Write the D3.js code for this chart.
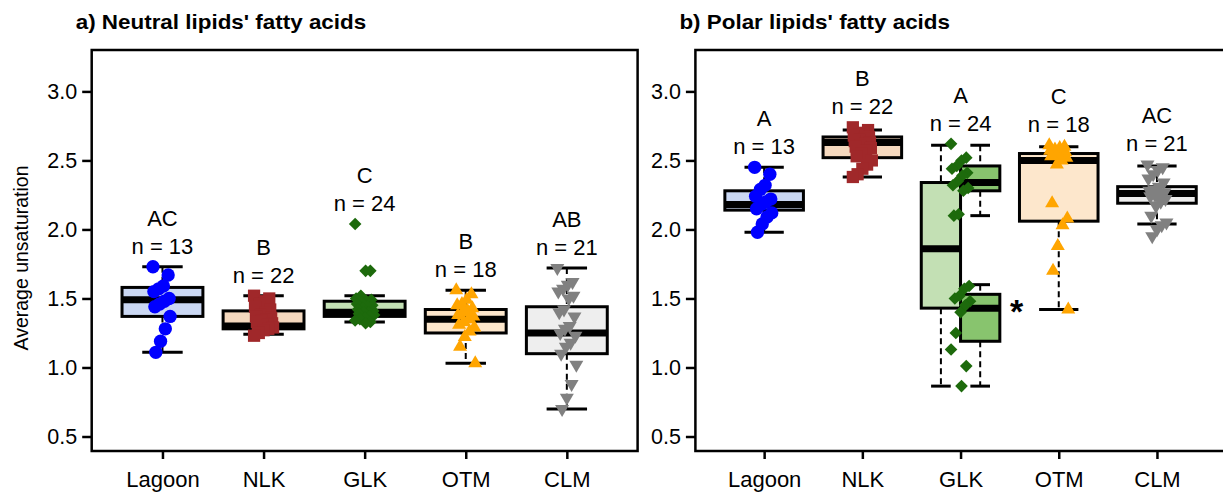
<!DOCTYPE html>
<html><head><meta charset="utf-8">
<script src="https://cdn.jsdelivr.net/npm/d3@7"></script>
<style>body{margin:0;background:#fff;overflow:hidden} text{font-family:"Liberation Sans",Arial,sans-serif;fill:#000}</style>
</head><body>
<svg id="c" width="1223" height="493"></svg>
<script>
// ---------------- data ----------------
const categories = ["Lagoon","NLK","GLK","OTM","CLM"];
const yTicks = [0.5,1.0,1.5,2.0,2.5,3.0];
const nCounts = [13,22,24,18,21];
const lettersNeutral = ["AC","B","C","B","AB"];
const lettersPolar = ["A","B","A","C","AC"];
// [lower whisker, Q1, median, Q3, upper whisker]
const statsNeutral = [
  [1.11,1.37,1.49,1.58,1.73],
  [1.24,1.28,1.30,1.41,1.52],
  [1.33,1.37,1.40,1.48,1.52],
  [1.03,1.25,1.35,1.42,1.56],
  [0.70,1.10,1.25,1.44,1.72]
];
const statsPolar = [
  [1.98,2.14,2.18,2.28,2.45],
  [2.38,2.52,2.63,2.67,2.72],
  [0.865,1.43,1.86,2.34,2.61],
  [1.42,2.06,2.50,2.55,2.60],
  [2.04,2.19,2.26,2.31,2.46]
];
// GLK polar split into two sub-groups
const statsGlkSplit = [
  [2.10,2.28,2.34,2.46,2.61],
  [0.865,1.19,1.43,1.53,1.60]
];
const lagoonNeutral = [1.73,1.67,1.59,1.57,1.55,1.50,1.48,1.46,1.44,1.37,1.28,1.19,1.11];
const nlkNeutral = [1.52,1.50,1.48,1.46,1.44,1.42,1.40,1.38,1.37,1.36,1.35,1.34,1.33,1.32,1.31,1.30,1.30,1.29,1.28,1.27,1.25,1.23];
const glkNeutral = [2.04,1.70,1.70,1.52,1.50,1.49,1.48,1.47,1.46,1.45,1.44,1.43,1.42,1.41,1.40,1.40,1.39,1.38,1.37,1.36,1.35,1.34,1.33,1.32];
const otmNeutral = [1.56,1.53,1.49,1.46,1.45,1.43,1.41,1.40,1.38,1.37,1.35,1.33,1.31,1.29,1.26,1.22,1.15,1.03];
const clmNeutral = [1.72,1.62,1.60,1.57,1.55,1.52,1.50,1.42,1.40,1.37,1.30,1.28,1.25,1.23,1.18,1.15,1.10,1.02,0.88,0.78,0.70];
const lagoonPolar = [2.45,2.40,2.32,2.29,2.24,2.22,2.20,2.18,2.15,2.12,2.09,2.04,1.98];
const nlkPolar = [2.74,2.72,2.70,2.69,2.68,2.67,2.66,2.65,2.64,2.63,2.62,2.61,2.60,2.59,2.57,2.55,2.53,2.50,2.47,2.44,2.40,2.38];
const glkPolar = [2.62,2.52,2.50,2.46,2.44,2.41,2.39,2.35,2.32,2.30,2.28,2.11,2.10,1.59,1.57,1.52,1.50,1.48,1.45,1.40,1.25,1.13,1.01,0.865];
const otmPolar = [2.61,2.60,2.59,2.58,2.57,2.56,2.55,2.54,2.53,2.52,2.50,2.47,2.19,2.08,2.03,1.88,1.70,1.42];
const clmPolar = [2.47,2.45,2.43,2.40,2.37,2.34,2.31,2.29,2.28,2.27,2.26,2.25,2.24,2.22,2.20,2.17,2.10,2.05,2.03,2.00,1.95];
const pointsNeutral = [lagoonNeutral,nlkNeutral,glkNeutral,otmNeutral,clmNeutral];
const pointsPolar = [lagoonPolar,nlkPolar,glkPolar,otmPolar,clmPolar];

// ---------------- styles ----------------
const pointColors = ["#0000FF","#A0282A","#1D6A0C","#FFA500","#808080"];
const fillColors = ["#CAD7F2","#F4D8BE","#C3E0B4","#FDE7CC","#EEEEEE"];
const splitFill = "#88C46E";
const shapes = ["circle","square","diamond","triUp","triDown"];

const svg = d3.select("#c");
const yDomain = [0.395, 3.30];
const frameTop = 50, frameBottom = 451;

function symbolPath(shape){
  if(shape==="circle") return d3.symbol(d3.symbolCircle, 140)();
  if(shape==="square") return d3.symbol(d3.symbolSquare, 150)();
  if(shape==="diamond"){ const s=6.3; return `M0,${-s}L${s},0L0,${s}L${-s},0Z`; }
  const h=12, w=14; // triangle
  if(shape==="triUp") return `M0,${-h*2/3}L${w/2},${h/3}L${-w/2},${h/3}Z`;
  return `M0,${h*2/3}L${w/2},${-h/3}L${-w/2},${-h/3}Z`;
}
const jit = i => ((i*37)%21 - 10)*0.95;

function drawBox(g, x, y, cx, halfW, capHalf, st, fill){
  const [lo,q1,med,q3,hi] = st;
  g.append("line").attr("x1",cx).attr("x2",cx).attr("y1",y(hi)).attr("y2",y(q3))
    .attr("stroke","#000").attr("stroke-width",2).attr("stroke-dasharray","6,4");
  g.append("line").attr("x1",cx).attr("x2",cx).attr("y1",y(q1)).attr("y2",y(lo))
    .attr("stroke","#000").attr("stroke-width",2).attr("stroke-dasharray","6,4");
  [lo,hi].forEach(v=>g.append("line").attr("x1",cx-capHalf).attr("x2",cx+capHalf)
    .attr("y1",y(v)).attr("y2",y(v)).attr("stroke","#000").attr("stroke-width",3));
  g.append("rect").attr("x",cx-halfW).attr("width",2*halfW)
    .attr("y",y(q3)).attr("height",y(q1)-y(q3))
    .attr("fill",fill).attr("stroke","#000").attr("stroke-width",3);
  g.append("line").attr("x1",cx-halfW).attr("x2",cx+halfW).attr("y1",y(med)).attr("y2",y(med))
    .attr("stroke","#000").attr("stroke-width",7);
}

function panel(opt){
  const x = d3.scaleLinear().domain([0.3,5.7]).range([opt.left,opt.right]);
  const y = d3.scaleLinear().domain(yDomain).range([frameBottom,frameTop]);
  const unit = x(2)-x(1);
  const g = svg.append("g");
  // title
  g.append("text").attr("transform",`translate(${opt.left-16},29) scale(1.15,1)`)
    .attr("font-weight","bold").attr("font-size",19.5).text(opt.title);
  // y axis
  const ya = g.append("g").attr("transform",`translate(${opt.left},0)`)
    .call(d3.axisLeft(y).tickValues(yTicks).tickFormat(d3.format(".1f")).tickSize(9.5).tickPadding(5));
  ya.select(".domain").remove();
  ya.selectAll(".tick line").attr("stroke-width",2.5);
  ya.selectAll(".tick text").attr("font-size",21.5).attr("font-family","Liberation Sans, Arial, sans-serif");
  // x axis
  const xa = g.append("g").attr("transform",`translate(0,${frameBottom})`)
    .call(d3.axisBottom(x).tickValues([1,2,3,4,5]).tickFormat((d,i)=>categories[i]).tickSize(8).tickPadding(0));
  xa.select(".domain").remove();
  xa.selectAll(".tick line").attr("stroke-width",2.5);
  xa.selectAll(".tick text").attr("font-size",22).attr("dy",null).attr("y",36)
    .attr("font-family","Liberation Sans, Arial, sans-serif");

  categories.forEach((c,i)=>{
    const cx = x(i+1);
    if(opt.split && i===2){
      drawBox(g,x,y,cx-0.2*unit,0.2*unit,0.1*unit,opt.stats[i],fillColors[i]);
      statsGlkSplit.forEach(st=>drawBox(g,x,y,cx+0.2*unit,0.2*unit,0.1*unit,st,splitFill));
    } else {
      drawBox(g,x,y,cx,0.4*unit,0.2*unit,opt.stats[i],fillColors[i]);
    }
  });
  // points and annotations
  categories.forEach((c,i)=>{
    const cx = x(i+1);
    g.selectAll(null).data(opt.points[i]).enter().append("path")
      .attr("d",symbolPath(shapes[i]))
      .attr("transform",(d,j)=>`translate(${cx+jit(j)},${y(d)})`)
      .attr("fill",pointColors[i]);
    const top = y(d3.max(opt.points[i]));
    g.append("text").attr("x",cx).attr("y",top-21).attr("dy","0.36em").attr("text-anchor","middle")
      .attr("font-size",22).text("n = "+nCounts[i]);
    g.append("text").attr("x",cx).attr("y",top-49).attr("dy","0.36em").attr("text-anchor","middle")
      .attr("font-size",22).text(opt.letters[i]);
  });
  if(opt.split){
    g.append("text").attr("x",x(3)+0.57*unit).attr("y",y(1.46)).attr("dy","0.55em")
      .attr("text-anchor","middle").attr("font-weight","bold").attr("font-size",34).text("*");
  }
  // frame
  g.append("rect").attr("x",opt.left).attr("y",frameTop).attr("width",opt.right-opt.left)
    .attr("height",frameBottom-frameTop).attr("fill","none").attr("stroke","#000").attr("stroke-width",2.5);
  return g;
}

panel({left:91.7,right:637.6,title:"a) Neutral lipids' fatty acids",stats:statsNeutral,points:pointsNeutral,letters:lettersNeutral});
panel({left:695.4,right:1225.7,title:"b) Polar lipids' fatty acids",stats:statsPolar,points:pointsPolar,letters:lettersPolar,split:true});

svg.append("text").attr("transform","translate(28,258) rotate(-90)").attr("text-anchor","middle")
  .attr("font-size",19.5).text("Average unsaturation");
</script>
</body></html>
